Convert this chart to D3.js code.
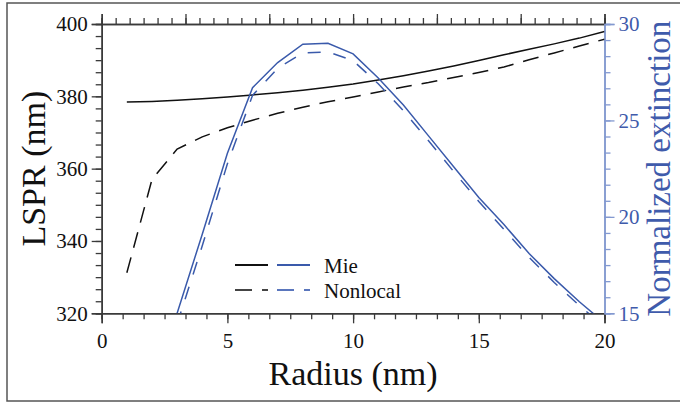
<!DOCTYPE html>
<html>
<head>
<meta charset="utf-8">
<script src="https://cdn.jsdelivr.net/npm/d3@7"></script>
<style>
  html, body { margin: 0; padding: 0; background: #fff; }
  svg { display: block; }
  text { font-family: "Liberation Serif", "Times New Roman", serif; }
</style>
</head>
<body>
<svg id="chart" width="680" height="402"></svg>
<script>
// ---- data ----
const radius = [1,2,3,4,5,6,7,8,9,10,11,12,13,14,15,16,17,18,19,20];
const lsprMie = [378.4,378.6,378.9,379.3,379.8,380.4,381.0,381.7,382.5,383.4,384.5,385.7,387.0,388.4,389.9,391.5,393.0,394.5,396.1,397.9];
const lsprNonlocal = [331.2,357.0,365.4,368.8,371.3,373.4,375.3,377.0,378.5,379.8,381.2,382.6,383.8,385.2,386.6,388.1,390.1,392.0,393.9,395.8];
const extRadius = [3,4,5,6,7,8,9,10,11,12,13,14,15,16,17,18,19,20];
const extMie = [15.0,19.1,23.3,26.7,28.0,28.95,29.0,28.45,27.2,25.8,24.2,22.6,21.0,19.6,18.1,16.8,15.6,14.5];
const extNonlocal = [14.45,18.5,22.75,26.3,27.7,28.5,28.55,28.1,26.9,25.5,23.95,22.35,20.8,19.35,17.9,16.6,15.4,14.3];
const xTicks = [0,5,10,15,20];
const yLeftTicks = [320,340,360,380,400];
const yRightTicks = [15,20,25,30];
const legendLabels = ["Mie","Nonlocal"];

// ---- layout ----
const svg = d3.select("#chart");
const L = 101.7, R = 604.5, T = 24, B = 313.3;
const black = "#111", axisCol = "#3a3a3a", blue = "#3a5aab", blueAxis = "#8399d0", blueText = "#3f5bab";

svg.append("rect").attr("x", 7).attr("y", 3).attr("width", 700).attr("height", 398)
  .attr("fill", "none").attr("stroke", "#555").attr("stroke-width", 1.5);

const x = d3.scaleLinear().domain([0, 20]).range([L, R]);
const xTop = d3.scaleLinear().domain([0, 6]).range([L, R]);
const yL = d3.scaleLinear().domain([320, 400]).range([B, T]);
const yR = d3.scaleLinear().domain([15, 30]).range([B, T]);

const minor = (a, b, step) => d3.range(Math.round((b - a) / step) + 1).map(i => a + i * step);

function styleAxis(g, col) {
  g.select(".domain").attr("stroke", col).attr("stroke-width", 1.5);
  g.selectAll(".tick line").attr("stroke", col).attr("stroke-width", 1.3);
  g.selectAll(".tick text").attr("font-family", '"Liberation Serif", serif');
}

// minor ticks
svg.append("g").attr("transform", `translate(0,${B})`)
  .call(d3.axisBottom(x).tickValues(minor(0, 20, 5/6)).tickSize(6).tickFormat(""))
  .call(g => styleAxis(g, axisCol));
svg.append("g").attr("transform", `translate(0,${T})`)
  .call(d3.axisTop(xTop).tickValues(minor(0, 6, 1/6)).tickSize(6).tickFormat(""))
  .call(g => styleAxis(g, axisCol));
svg.append("g").attr("transform", `translate(${L},0)`)
  .call(d3.axisLeft(yL).tickValues(minor(320, 400, 20/6)).tickSize(6).tickFormat(""))
  .call(g => styleAxis(g, axisCol));
svg.append("g").attr("transform", `translate(${R},0)`)
  .call(d3.axisRight(yR).tickValues(minor(15, 30, 5/6)).tickSize(6).tickFormat(""))
  .call(g => styleAxis(g, blueAxis));

// major ticks
svg.append("g").attr("transform", `translate(0,${B})`)
  .call(d3.axisBottom(x).tickValues(xTicks).tickSize(10).tickPadding(10).tickFormat(d3.format("d")))
  .call(g => styleAxis(g, axisCol))
  .call(g => g.selectAll(".tick text").attr("font-size", 21).attr("fill", "#111"));
svg.append("g").attr("transform", `translate(0,${T})`)
  .call(d3.axisTop(xTop).tickValues(d3.range(0, 7)).tickSize(10).tickFormat(""))
  .call(g => styleAxis(g, axisCol));
svg.append("g").attr("transform", `translate(${L},0)`)
  .call(d3.axisLeft(yL).tickValues(yLeftTicks).tickSize(10).tickPadding(4).tickFormat(d3.format("d")))
  .call(g => styleAxis(g, axisCol))
  .call(g => g.selectAll(".tick text").attr("font-size", 21).attr("fill", "#111"));
svg.append("g").attr("transform", `translate(${R},0)`)
  .call(d3.axisRight(yR).tickValues(yRightTicks).tickSize(10).tickPadding(4).tickFormat(d3.format("d")))
  .call(g => styleAxis(g, blueAxis))
  .call(g => g.selectAll(".tick text").attr("font-size", 21).attr("fill", blueText));

// clip
svg.append("clipPath").attr("id", "plotclip").append("rect")
  .attr("x", L).attr("y", T).attr("width", R - L).attr("height", B - T);
const plot = svg.append("g").attr("clip-path", "url(#plotclip)");

const lineL = d3.line().x(d => x(d[0])).y(d => yL(d[1]));
const lineR = d3.line().x(d => x(d[0])).y(d => yR(d[1]));

plot.append("path").datum(d3.zip(radius, lsprMie)).attr("d", lineL)
  .attr("fill", "none").attr("stroke", black).attr("stroke-width", 1.5);
plot.append("path").datum(d3.zip(radius, lsprNonlocal)).attr("d", lineL)
  .attr("fill", "none").attr("stroke", black).attr("stroke-width", 1.5).attr("stroke-dasharray", "16,10");
plot.append("path").datum(d3.zip(extRadius, extMie)).attr("d", lineR)
  .attr("fill", "none").attr("stroke", blue).attr("stroke-width", 1.5);
plot.append("path").datum(d3.zip(extRadius, extNonlocal)).attr("d", lineR)
  .attr("fill", "none").attr("stroke", blue).attr("stroke-width", 1.5).attr("stroke-dasharray", "13,13");

// legend
const leg = svg.append("g");
legendLabels.forEach((lab, i) => {
  const yy = 265 + i * 25;
  const dash = i === 0 ? null : "17,10";
  leg.append("line").attr("x1", 235).attr("x2", 268).attr("y1", yy).attr("y2", yy)
    .attr("stroke", i === 0 ? black : "#444").attr("stroke-width", 1.8).attr("stroke-dasharray", dash);
  leg.append("line").attr("x1", 277).attr("x2", 310).attr("y1", yy).attr("y2", yy)
    .attr("stroke", i === 0 ? blue : "#5a76bd").attr("stroke-width", 1.8).attr("stroke-dasharray", dash);
  leg.append("text").attr("x", 324).attr("y", yy + 8).attr("font-size", 21).attr("fill", "#111").text(lab);
});

// titles
svg.append("text").attr("x", (L + R) / 2).attr("y", 385).attr("text-anchor", "middle")
  .attr("font-size", 34).attr("fill", "#111").text("Radius (nm)");
svg.append("text").attr("transform", `translate(45,${(T + B) / 2}) rotate(-90)`)
  .attr("text-anchor", "middle").attr("font-size", 34).attr("fill", "#111").text("LSPR (nm)");
svg.append("text").attr("transform", `translate(670,${(T + B) / 2}) rotate(-90)`)
  .attr("text-anchor", "middle").attr("font-size", 33).attr("fill", blueText).text("Normalized extinction");
</script>
</body>
</html>
